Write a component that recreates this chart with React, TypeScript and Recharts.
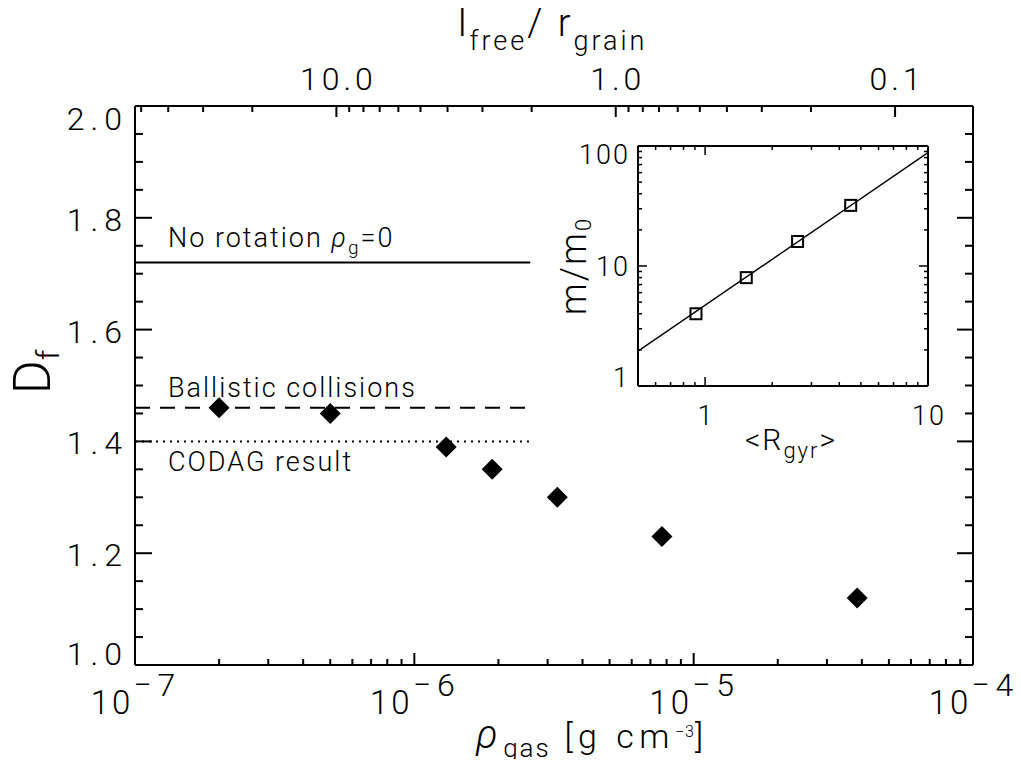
import React from "react";
import { ComposedChart, Scatter, XAxis, YAxis, ReferenceLine } from "recharts";

// main panel: fractal dimension vs gas density
const gasDensity = [2.0e-7, 5.0e-7, 1.3e-6, 1.9e-6, 3.25e-6, 7.7e-6, 3.85e-5];
const fractalDim = [1.46, 1.45, 1.39, 1.35, 1.3, 1.23, 1.12];

// reference levels (no rotation, ballistic, CODAG), drawn over the low-density part
const refLevels = [1.72, 1.46, 1.4];
const refDash = [undefined, "15 10", "2 5"];
const refRange = [1e-7, 2.6e-6];

const densityTicks = [
  1e-7, 2e-7, 3e-7, 4e-7, 5e-7, 6e-7, 7e-7, 8e-7, 9e-7,
  1e-6, 2e-6, 3e-6, 4e-6, 5e-6, 6e-6, 7e-6, 8e-6, 9e-6,
  1e-5, 2e-5, 3e-5, 4e-5, 5e-5, 6e-5, 7e-5, 8e-5, 9e-5, 1e-4,
];
const dfTicks = [
  1.0, 1.05, 1.1, 1.15, 1.2, 1.25, 1.3, 1.35, 1.4, 1.45, 1.5,
  1.55, 1.6, 1.65, 1.7, 1.75, 1.8, 1.85, 1.9, 1.95, 2.0,
];
const freePathTicks = [
  50, 40, 30, 20, 10, 9, 8, 7, 6, 5, 4, 3, 2,
  1, 0.9, 0.8, 0.7, 0.6, 0.5, 0.4, 0.3, 0.2, 0.1,
];
const FREE_PATH_SCALE = 5.26e-6; // l_free/r_grain = FREE_PATH_SCALE / rho_gas

// inset: mass vs radius of gyration
const gyrRadius = [0.91, 1.53, 2.6, 4.5];
const massRatio = [4, 8, 16, 32];
const fitRadius = [0.5, 10];
const fitMass = [1.95, 88];
const radiusTicks = [0.6, 0.7, 0.8, 0.9, 1, 2, 3, 4, 5, 6, 7, 8, 9, 10];
const massTicks = [1, 2, 3, 4, 5, 6, 7, 8, 9, 10, 20, 30, 40, 50, 60, 70, 80, 90, 100];

const FONT = "Roboto, 'DejaVu Sans', sans-serif";
const W = 300;
const txt = { fontFamily: FONT, fontWeight: W, fill: "#000" } as const;

const isDecade = (v: number) => Math.abs(Math.log10(v) - Math.round(Math.log10(v))) < 1e-6;
const isMajorDf = (v: number) => Math.abs(v * 5 - Math.round(v * 5)) < 1e-6;

const BottomTick = ({ x, y, payload }: any) => {
  const major = isDecade(payload.value);
  const exp = Math.round(Math.log10(payload.value));
  return (
    <g>
      <line x1={x} y1={y} x2={x} y2={y - (major ? 12 : 6)} stroke="#000" strokeWidth={2} />
      {major && (
        <text x={x + 1} y={y + 49} textAnchor="middle" fontSize={33} letterSpacing={3} {...txt}>
          <tspan>10</tspan>
          <tspan dy={-18} fontSize={32} letterSpacing={6}>{"\u2212" + Math.abs(exp)}</tspan>
        </text>
      )}
    </g>
  );
};

const TopTick = ({ x, y, payload }: any) => {
  const l = FREE_PATH_SCALE / payload.value;
  const major = isDecade(l);
  return (
    <g>
      <line x1={x} y1={y} x2={x} y2={y + (major ? 11 : 6)} stroke="#000" strokeWidth={2} />
      {major && (
        <text x={x + 2} y={y - 16} textAnchor="middle" fontSize={32} letterSpacing={4} {...txt}>
          {l.toFixed(1)}
        </text>
      )}
    </g>
  );
};

// end labels are kept inside the axis span, as in the original plot
const LeftTick = ({ x, y, payload }: any) => {
  const v = payload.value;
  const major = isMajorDf(v);
  const shift = v <= 1 ? 0 : v >= 2 ? 24 : 13;
  return (
    <g>
      <line x1={x} y1={y} x2={x + (major ? 17 : 8)} y2={y} stroke="#000" strokeWidth={2} />
      {major && (
        <text x={x - 7} y={y + shift} textAnchor="end" fontSize={32} letterSpacing={6} {...txt}>
          {v.toFixed(1)}
        </text>
      )}
    </g>
  );
};

const RightTick = ({ x, y, payload }: any) => {
  const major = isMajorDf(payload.value);
  return <line x1={x} y1={y} x2={x - (major ? 16 : 8)} y2={y} stroke="#000" strokeWidth={2} />;
};

const InsetBottomTick = ({ x, y, payload }: any) => {
  const major = isDecade(payload.value);
  return (
    <g>
      <line x1={x} y1={y} x2={x} y2={y - (major ? 9 : 4)} stroke="#000" strokeWidth={1.5} />
      {major && (
        <text x={x + 1} y={y + 39} textAnchor="middle" fontSize={27} letterSpacing={2} {...txt}>
          {payload.value}
        </text>
      )}
    </g>
  );
};

const InsetTopTick = ({ x, y, payload }: any) => {
  const major = isDecade(payload.value);
  return <line x1={x} y1={y} x2={x} y2={y + (major ? 9 : 4)} stroke="#000" strokeWidth={1.5} />;
};

const InsetLeftTick = ({ x, y, payload }: any) => {
  const v = payload.value;
  const major = isDecade(v);
  const shift = v <= 1 ? 1 : v >= 100 ? 18 : 10;
  return (
    <g>
      <line x1={x} y1={y} x2={x + (major ? 9 : 4)} y2={y} stroke="#000" strokeWidth={1.5} />
      {major && (
        <text x={x - 8} y={y + shift} textAnchor="end" fontSize={27} letterSpacing={2} {...txt}>
          {v}
        </text>
      )}
    </g>
  );
};

const InsetRightTick = ({ x, y, payload }: any) => {
  const major = isDecade(payload.value);
  return <line x1={x} y1={y} x2={x - (major ? 9 : 4)} y2={y} stroke="#000" strokeWidth={1.5} />;
};

const Diamond = ({ cx, cy }: any) => (
  <path d={`M${cx},${cy - 10.5} L${cx + 10.5},${cy} L${cx},${cy + 10.5} L${cx - 10.5},${cy} Z`} fill="#000" />
);

const OpenSquare = ({ cx, cy }: any) => (
  <rect x={cx - 5.5} y={cy - 5.5} width={11} height={11} fill="none" stroke="#000" strokeWidth={2} />
);

const Hidden = () => <g />;

const axisLine = { stroke: "#000", strokeWidth: 2 };
const axisBase = {
  type: "number" as const,
  allowDataOverflow: true,
  interval: 0 as const,
  tickSize: 0,
  tickMargin: 0,
  tickLine: false,
  axisLine,
};

export default function App() {
  const points = gasDensity.map((x, i) => ({ x, y: fractalDim[i] }));
  const insetPoints = gyrRadius.map((x, i) => ({ x, y: massRatio[i] }));
  const fitPoints = fitRadius.map((x, i) => ({ x, y: fitMass[i] }));

  return (
    <div style={{ position: "relative", width: 1013, height: 751, background: "#fff" }}>
      <ComposedChart width={1013} height={751} margin={{ top: 0, right: 0, bottom: 0, left: 0 }}>
        <XAxis
          {...axisBase}
          xAxisId="bottom"
          orientation="bottom"
          dataKey="x"
          scale="log"
          domain={[1e-7, 1e-4]}
          ticks={densityTicks}
          tick={BottomTick}
          height={94}
        />
        <XAxis
          {...axisBase}
          xAxisId="top"
          orientation="top"
          dataKey="x"
          scale="log"
          domain={[1e-7, 1e-4]}
          ticks={freePathTicks.map((l) => FREE_PATH_SCALE / l)}
          tick={TopTick}
          height={98}
        />
        <YAxis
          {...axisBase}
          yAxisId="left"
          orientation="left"
          dataKey="y"
          domain={[1, 2]}
          ticks={dfTicks}
          tick={LeftTick}
          width={127}
        />
        <YAxis
          {...axisBase}
          yAxisId="right"
          orientation="right"
          dataKey="y"
          domain={[1, 2]}
          ticks={dfTicks}
          tick={RightTick}
          width={48}
        />
        {refLevels.map((lvl, i) => (
          <ReferenceLine
            key={i}
            xAxisId="bottom"
            yAxisId="left"
            segment={[
              { x: refRange[0], y: lvl },
              { x: refRange[1], y: lvl },
            ]}
            stroke="#000"
            strokeWidth={2}
            strokeDasharray={refDash[i]}
            ifOverflow="visible"
          />
        ))}
        {/* same points on the top/right axes, not drawn: keeps those axes populated */}
        <Scatter xAxisId="top" yAxisId="right" data={points} shape={Hidden} isAnimationActive={false} />
        <Scatter
          xAxisId="bottom"
          yAxisId="left"
          data={points}
          shape={(p: any) => <Diamond {...p} />}
          isAnimationActive={false}
        />
      </ComposedChart>

      {/* inset */}
      <div style={{ position: "absolute", left: 532, top: 102 }}>
        <ComposedChart width={440} height={330} margin={{ top: 0, right: 0, bottom: 0, left: 0 }}>
          <XAxis
            {...axisBase}
            xAxisId="b"
            orientation="bottom"
            dataKey="x"
            scale="log"
            domain={[0.5, 10]}
            ticks={radiusTicks}
            tick={InsetBottomTick}
            height={54}
          />
          <XAxis
            {...axisBase}
            xAxisId="t"
            orientation="top"
            dataKey="x"
            scale="log"
            domain={[0.5, 10]}
            ticks={radiusTicks}
            tick={InsetTopTick}
            height={36}
          />
          <YAxis
            {...axisBase}
            yAxisId="l"
            orientation="left"
            dataKey="y"
            scale="log"
            domain={[1, 100]}
            ticks={massTicks}
            tick={InsetLeftTick}
            width={98}
          />
          <YAxis
            {...axisBase}
            yAxisId="r"
            orientation="right"
            dataKey="y"
            scale="log"
            domain={[1, 100]}
            ticks={massTicks}
            tick={InsetRightTick}
            width={52}
          />
          <Scatter xAxisId="t" yAxisId="r" data={insetPoints} shape={Hidden} isAnimationActive={false} />
          <Scatter
            xAxisId="b"
            yAxisId="l"
            data={fitPoints}
            line={{ stroke: "#000", strokeWidth: 1.4 }}
            shape={Hidden}
            isAnimationActive={false}
          />
          <Scatter
            xAxisId="b"
            yAxisId="l"
            data={insetPoints}
            shape={(p: any) => <OpenSquare {...p} />}
            isAnimationActive={false}
          />
        </ComposedChart>
      </div>

      {/* titles and annotations, in page coordinates */}
      <svg
        width={1021}
        height={767}
        viewBox="0 0 1021 767"
        style={{ position: "absolute", left: -8, top: -8, pointerEvents: "none" }}
      >
        <text x={458} y={36} fontSize={38} letterSpacing={3} {...txt}>
          l<tspan fontSize={27} dy={14} letterSpacing={3}>free</tspan>
          <tspan dy={-14}>/ r</tspan>
          <tspan fontSize={27} dy={14} letterSpacing={3}>grain</tspan>
        </text>
        <text x={476} y={748} fontSize={34} letterSpacing={5.5} {...txt}>
          <tspan fontStyle="italic" fontSize={40}>ρ</tspan>
          <tspan fontSize={26} dy={9} letterSpacing={2}>gas</tspan>
          <tspan dy={-9}> [g cm</tspan>
          <tspan fontSize={16} dy={-11} letterSpacing={1}>{"\u22123"}</tspan>
          <tspan dy={11}>]</tspan>
        </text>
        <text transform="translate(50,372) rotate(-90)" textAnchor="middle" fontSize={52} {...txt}>
          D<tspan fontSize={32} dy={9}>f</tspan>
        </text>

        <text x={168} y={247} fontSize={27} letterSpacing={2} {...txt}>
          No rotation <tspan fontStyle="italic">ρ</tspan>
          <tspan fontSize={19} dy={7}>g</tspan>
          <tspan dy={-7}>=0</tspan>
        </text>
        <text x={168} y={397} fontSize={27} letterSpacing={2} {...txt}>
          Ballistic collisions
        </text>
        <text x={168} y={471} fontSize={27} letterSpacing={2} {...txt}>
          CODAG result
        </text>

        <text x={791} y={450} textAnchor="middle" fontSize={30} letterSpacing={2} {...txt}>
          &lt;R<tspan fontSize={22} dy={8}>gyr</tspan>
          <tspan dy={-8}>&gt;</tspan>
        </text>
        <text transform="translate(586,266) rotate(-90)" textAnchor="middle" fontSize={36} letterSpacing={2} {...txt}>
          m/m<tspan fontSize={22} dy={5}>0</tspan>
        </text>
      </svg>
    </div>
  );
}
